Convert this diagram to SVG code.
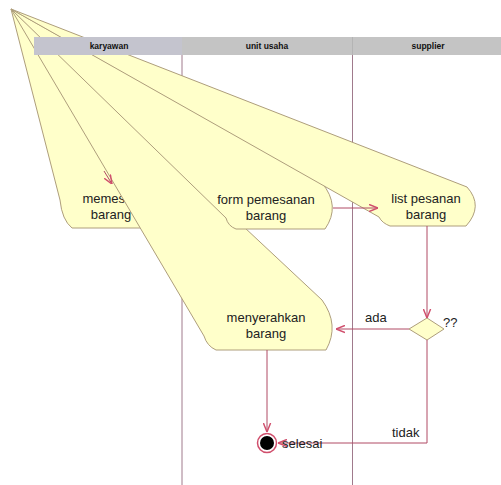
<svg xmlns="http://www.w3.org/2000/svg" width="501" height="485" viewBox="0 0 501 485">
  <style>
    .lane { stroke: #A07A8C; stroke-width: 1; fill: none; }
    .act { fill: #FFFFCA; stroke: #AE9E7C; stroke-width: 1; }
    .lbl { font-family: "Liberation Sans", Arial, sans-serif; font-size: 13px; fill: #222; }
    .hdr { font-family: "Liberation Sans", Arial, sans-serif; font-size: 8.5px; font-weight: bold; fill: #111; text-anchor: middle; }
    .c { text-anchor: middle; }
    .flow { fill: none; stroke: #B04A64; stroke-width: 1; }
  </style>
  <defs>
    <marker id="arr" viewBox="0 0 10 10" refX="10" refY="5" markerWidth="9" markerHeight="9" orient="auto" markerUnits="userSpaceOnUse">
      <path d="M0,1 L10,5 L0,9" fill="none" stroke="#D04E6C" stroke-width="1.6"/>
    </marker>
  </defs>

  <rect width="501" height="485" fill="#FFFFFF"/>

  <!-- swimlane dividers -->
  <g id="lanes">
    <line class="lane" x1="182" y1="55" x2="182" y2="485"/>
    <line class="lane" x1="352.5" y1="55" x2="352.5" y2="485"/>
  </g>

  <!-- activity: memesan barang -->
  <g id="memesan">
    <path class="act" d="M11,9 L148,180 Q158,204 148,228 L72,228 Q62,220 60,200 Z"/>
    <text class="lbl c" x="111" y="203">memesan</text>
    <text class="lbl c" x="111" y="219">barang</text>
  </g>

  <!-- activity: menyerahkan barang -->
  <g id="menyerahkan">
    <path class="act" d="M11,9 L322,300 Q340,325 326,350 L216,350 Q207,346 204,336 Z"/>
    <text class="lbl c" x="266" y="322">menyerahkan</text>
    <text class="lbl c" x="266" y="338">barang</text>
  </g>

  <!-- activity: form pemesanan barang -->
  <g id="form">
    <path class="act" d="M11,9 L322,183 Q341,206 325,229 L236,229 Q228,226 226,218 Z"/>
    <text class="lbl c" x="266" y="204">form pemesanan</text>
    <text class="lbl c" x="266" y="220">barang</text>
  </g>

  <!-- activity: list pesanan barang -->
  <g id="list">
    <path class="act" d="M11,9 L467,187 Q484,206 466,226 L390,226 Q382,223 379,217 Z"/>
    <text class="lbl c" x="426" y="203">list pesanan</text>
    <text class="lbl c" x="426" y="219">barang</text>
  </g>

  <!-- swimlane header -->
  <g id="header">
    <rect x="34" y="37" width="148" height="18" fill="#C4C4CE"/>
    <rect x="182" y="37" width="319" height="18" fill="#C4C4C4"/>
    <line x1="352.5" y1="37" x2="352.5" y2="55" stroke="#B4B4B4"/>
    <text class="hdr" x="109" y="49">karyawan</text>
    <text class="hdr" x="267" y="49">unit usaha</text>
    <text class="hdr" x="428" y="49">supplier</text>
  </g>

  <!-- decision -->
  <g id="decision">
    <path class="act" d="M409,329 L427,318 L444,329 L427,340 Z"/>
    <text class="lbl" x="443" y="327">??</text>
  </g>

  <!-- final node -->
  <g id="selesai">
    <circle cx="267" cy="443" r="9.5" fill="#FFFFFF" stroke="#D04E6C" stroke-width="1.5"/>
    <circle cx="267" cy="443" r="7" fill="#000000"/>
  </g>

  <!-- control flows -->
  <g id="connectors">
    <path class="flow" d="M104,171 L112,184" marker-end="url(#arr)"/>
    <path class="flow" d="M333,208 L378,208" marker-end="url(#arr)"/>
    <path class="flow" d="M427,226 L427,318" marker-end="url(#arr)"/>
    <path class="flow" d="M409,329 L336,329" marker-end="url(#arr)"/>
    <path class="flow" d="M427,340 L427,443 L278,443" marker-end="url(#arr)"/>
    <path class="flow" d="M267,350 L267,432" marker-end="url(#arr)"/>
    <text class="lbl" x="365" y="322">ada</text>
    <text class="lbl" x="392" y="437">tidak</text>
    <text class="lbl" x="282" y="448">selesai</text>
  </g>
</svg>
